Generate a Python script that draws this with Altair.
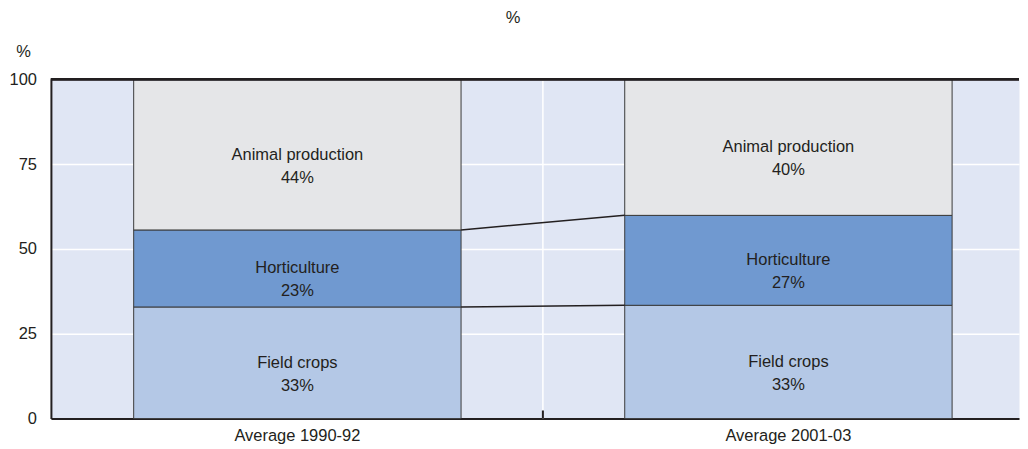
import altair as alt
import pandas as pd

# ---- data ----
periods = ["Average 1990-92", "Average 2001-03"]
sectors = ["Field crops", "Horticulture", "Animal production"]
shares_1990_92 = [32.9, 22.7, 44.4]
shares_2001_03 = [33.4, 26.5, 40.1]
label_pcts_1990_92 = [33, 23, 44]
label_pcts_2001_03 = [33, 27, 40]
sector_colors = ["#b4c8e6", "#7099d0", "#e5e6e8"]
y_ticks = [0, 25, 50, 75, 100]

FONT = "Liberation Sans, Arial, sans-serif"
FS = 16.5
TEXT = "#231f20"
BG = "#e0e6f4"

# ---- tables built from the arrays ----
rows = []
for period, shares, pcts in [
    (periods[0], shares_1990_92, label_pcts_1990_92),
    (periods[1], shares_2001_03, label_pcts_2001_03),
]:
    base = 0.0
    for i, (sector, v, p) in enumerate(zip(sectors, shares, pcts)):
        rows.append(dict(period=period, sector=sector, order=i,
                         y0=base, y1=base + v, mid=base + v / 2,
                         label=f"{sector}\n{p}%"))
        base += v
bars_df = pd.DataFrame(rows)

conn_rows = []
for i in range(2):
    conn_rows.append(dict(p0=periods[0], p1=periods[1],
                          ya=sum(shares_1990_92[:i + 1]),
                          yb=sum(shares_2001_03[:i + 1])))
conn_df = pd.DataFrame(conn_rows)

WIDTH = 970
PAD_INNER = 1 / 3
PAD_OUTER = 0.1524
STEP = WIDTH / (len(periods) - PAD_INNER + 2 * PAD_OUTER)
xscale = alt.Scale(domain=periods, paddingInner=PAD_INNER, paddingOuter=PAD_OUTER, align=0.553)
yscale = alt.Scale(domain=[0, 100], nice=False)

x_axis = alt.Axis(title=None, labelFont=FONT, labelFontSize=FS, labelColor=TEXT,
                  labelPadding=9, ticks=False, tickSize=0, domainColor=TEXT, domainWidth=2,
                  grid=False, labelAngle=0, bandPosition=0.5)
y_axis = alt.Axis(values=y_ticks, title="%", titleAngle=0, titleX=-28, titleY=-27.5,
                  titleAlign="center", titleBaseline="middle", titleFont=FONT,
                  titleFontSize=FS, titleFontWeight="normal", titleColor=TEXT,
                  labelFont=FONT, labelFontSize=FS, labelColor=TEXT, labelPadding=14.5,
                  ticks=False, tickSize=0, domainColor=TEXT, domainWidth=2,
                  grid=True, gridColor="white", gridWidth=1.5)

base = alt.Chart(bars_df)

bars = base.mark_bar(stroke="#3a3a3a", strokeWidth=1).encode(
    x=alt.X("period:N", scale=xscale, axis=x_axis, sort=periods),
    y=alt.Y("y0:Q", scale=yscale, axis=y_axis),
    y2="y1:Q",
    color=alt.Color("sector:N", scale=alt.Scale(domain=sectors, range=sector_colors), legend=None),
)

# white vertical gridline in the middle of the gap between the two categories
mid_df = pd.DataFrame({"period": [periods[1]]})
mid_grid = alt.Chart(mid_df).mark_rule(
    color="white", strokeWidth=1.5, xOffset=-STEP * PAD_INNER / 2).encode(
    x=alt.X("period:N", scale=xscale, bandPosition=0),
    y=alt.datum(0),
    y2=alt.datum(100),
)

texts = base.mark_text(font=FONT, fontSize=FS, lineHeight=23, lineBreak="\n",
                       color=TEXT, baseline="middle", align="center").encode(
    x=alt.X("period:N", scale=xscale, sort=periods),
    y=alt.Y("mid:Q", scale=yscale),
    text="label:N",
)

connectors = alt.Chart(conn_df).mark_rule(color=TEXT, strokeWidth=1.5).encode(
    x=alt.X("p0:N", scale=xscale, bandPosition=1),
    x2=alt.X2("p1", bandPosition=0),
    y=alt.Y("ya:Q", scale=yscale),
    y2="yb:Q",
)

top_line = alt.Chart(bars_df).mark_rule(color=TEXT, strokeWidth=2).encode(
    y=alt.datum(100)
)

# short inward tick on the x axis at the same place as the vertical gridline
mid_tick = alt.Chart(mid_df).mark_rule(
    color=TEXT, strokeWidth=2, xOffset=-STEP * PAD_INNER / 2).encode(
    x=alt.X("period:N", scale=xscale, bandPosition=0),
    y=alt.datum(0),
    y2=alt.datum(2.4),
)

chart = alt.layer(bars, mid_grid, connectors, texts, top_line, mid_tick).properties(
    width=WIDTH,
    height=340,
    background="white",
    padding={"left": 0, "top": 2, "right": 0, "bottom": 0},
    title=alt.Title("%", font=FONT, fontSize=FS, fontWeight="normal", color=TEXT,
                    anchor="middle", frame="group", dx=-22, offset=17),
).configure_view(fill=BG, strokeOpacity=0)

chart.save("out.html", embed_options={"renderer": "svg", "actions": False})
